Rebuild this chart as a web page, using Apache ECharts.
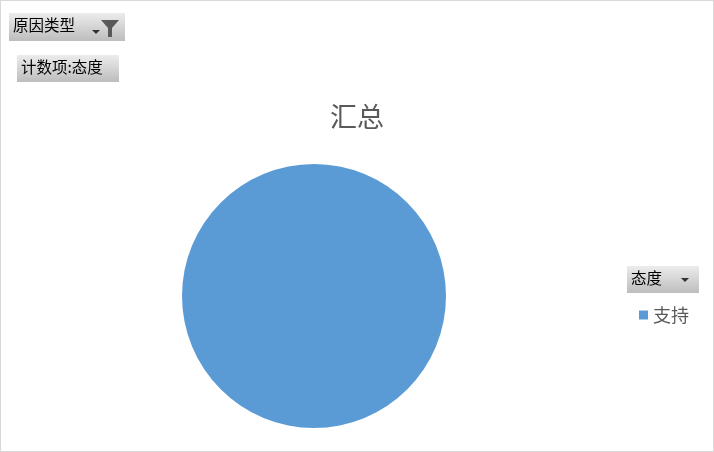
<!DOCTYPE html>
<html>
<head>
<meta charset="utf-8">
<script src="https://cdn.jsdelivr.net/npm/echarts@6/dist/echarts.min.js"></script>
<style>
  html, body { margin: 0; padding: 0; background: #fff; }
  #chart { width: 714px; height: 452px; box-sizing: border-box; border: 1px solid #d9d9d9; }
</style>
</head>
<body>
<div id="chart"></div>
<script>
// 数据
const categories = ['支持'];
const counts = [1];
const titleText = '汇总';
const filterLabel = '原因类型';
const valueLabel = '计数项:态度';
const legendLabel = '态度';

const FONT = '"Noto Sans CJK SC", sans-serif';

// 灰色渐变按钮
function button(x, y, w, h, text) {
    return [
        {
            type: 'rect',
            left: x, top: y,
            shape: { width: w, height: h },
            style: {
                fill: new echarts.graphic.LinearGradient(0, 0, 0, 1, [
                    { offset: 0, color: '#ececec' },
                    { offset: 1, color: '#bdbdbd' }
                ])
            }
        },
        {
            type: 'text',
            left: x + 4, top: y + 4,
            style: { text: text, fontSize: 15.5, fill: '#000', fontFamily: FONT }
        }
    ];
}

// 下拉小三角
function arrow(cx, cy) {
    return {
        type: 'polygon',
        shape: { points: [[cx - 4, cy - 2], [cx + 4, cy - 2], [cx, cy + 2]] },
        style: { fill: '#333' }
    };
}

document.addEventListener('DOMContentLoaded', function () {
    const chart = echarts.init(document.getElementById('chart'));

    const graphics = []
        .concat(button(8, 12, 116, 28, filterLabel))
        .concat([
            arrow(95, 31),
            {
                type: 'polygon',
                shape: { points: [[100, 19], [118, 19], [111, 27], [111, 36], [107, 36], [107, 27]] },
                style: { fill: '#595959' }
            }
        ])
        .concat(button(16, 54, 102, 27, valueLabel))
        .concat(button(626, 265, 72, 27, legendLabel))
        .concat([arrow(684, 279)]);

    chart.setOption({
        backgroundColor: '#fff',
        title: {
            text: titleText,
            left: 'center',
            top: 97,
            textStyle: { fontSize: 27, fontWeight: 'normal', color: '#595959', fontFamily: FONT }
        },
        legend: {
            data: categories,
            orient: 'vertical',
            left: 633,
            top: 300,
            icon: 'rect',
            itemWidth: 9,
            itemHeight: 9,
            itemGap: 6,
            textStyle: { fontSize: 18, color: '#595959', fontFamily: FONT }
        },
        graphic: graphics,
        series: [{
            type: 'pie',
            center: [313, 295],
            radius: 132,
            label: { show: false },
            labelLine: { show: false },
            silent: true,
            animation: false,
            itemStyle: { color: '#5B9BD5', borderWidth: 0 },
            data: categories.map((c, i) => ({ name: c, value: counts[i] }))
        }]
    });
});
</script>
</body>
</html>
